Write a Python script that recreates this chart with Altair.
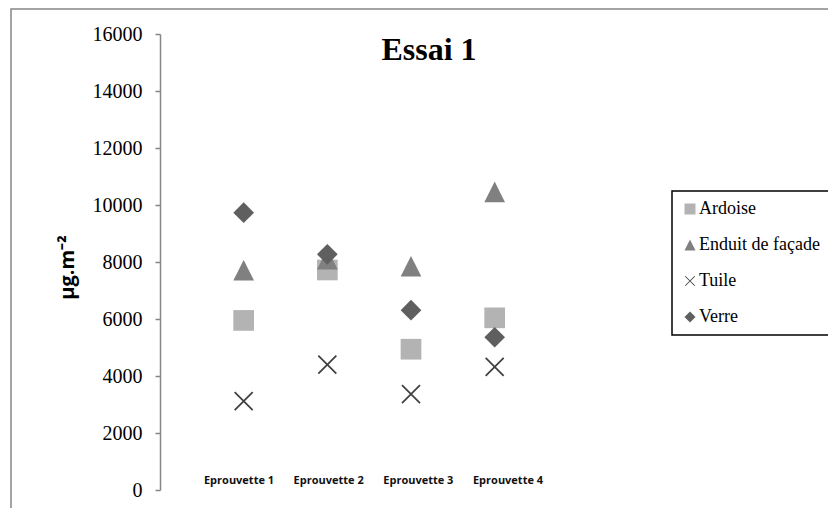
import altair as alt
import pandas as pd

# ---- data ----
categories = ["Eprouvette 1", "Eprouvette 2", "Eprouvette 3", "Eprouvette 4"]
positions = [1, 2, 3, 4]
series = ["Ardoise", "Enduit de façade", "Tuile", "Verre"]
ardoise = [5950, 7720, 4940, 6040]
enduit = [7710, 8100, 7850, 10460]
tuile = [3120, 4400, 3360, 4320]
verre = [9730, 8270, 6310, 5360]
y_ticks = [0, 2000, 4000, 6000, 8000, 10000, 12000, 14000, 16000]
title_text = ["Essai 1"]
y_title = "µg.m⁻²"

rows = []
for name, vals in zip(series, [ardoise, enduit, tuile, verre]):
    for pos, cat, v in zip(positions, categories, vals):
        rows.append({"serie": name, "pos": pos, "cat": cat, "val": v})
df = pd.DataFrame(rows)
labels_df = pd.DataFrame({"cat": categories})
title_df = pd.DataFrame({"t": title_text})

colors = ["#b3b3b3", "#808080", "#404040", "#5f5f5f"]
x_path = ("M-0.81,-0.93L0.93,0.81L0.81,0.93L-0.93,-0.81Z"
          "M-0.81,0.93L-0.93,0.81L0.81,-0.93L0.93,-0.81Z")
shapes = ["square", "M0,-1L1,1L-1,1Z", x_path, "diamond"]

W, H = 502, 456

legend = alt.Legend(
    title=None, orient="none", legendX=512, legendY=157,
    strokeColor="black", padding=9, rowPadding=18,
    symbolSize=121, symbolStrokeWidth=0, symbolOpacity=1,
    labelFont="Liberation Serif", labelFontSize=18, labelColor="black",
    labelOffset=0,
)

points = alt.Chart(df).mark_point(filled=True, size=428, opacity=1, strokeWidth=0).encode(
    x=alt.X("pos:Q", scale=alt.Scale(domain=[0, 6], nice=False, zero=False), axis=None),
    y=alt.Y("val:Q", scale=alt.Scale(domain=[0, 16000], nice=False),
            axis=alt.Axis(values=y_ticks, format="d", title=y_title, grid=False,
                          domainColor="#868686", domainWidth=1.5,
                          tickColor="#868686", tickWidth=1.5, tickSize=5,
                          labelFont="Liberation Serif", labelFontSize=20,
                          labelColor="black", labelPadding=13,
                          titleFont="Open Sans", titleFontWeight="bold",
                          titleFontSize=20, titleColor="black",
                          titleX=-87, titleY=233, titleAngle=270,
                          titleAlign="center", titleBaseline="alphabetic")),
    color=alt.Color("serie:N", scale=alt.Scale(domain=series, range=colors), legend=legend),
    shape=alt.Shape("serie:N", scale=alt.Scale(domain=series, range=shapes), legend=legend),
    order=alt.Order("serie:N"),
)

cat_text = alt.Chart(labels_df).mark_text(
    font="Open Sans", fontSize=11, fontWeight="bold", color="#111111", baseline="middle"
).encode(
    x=alt.X("cat:N", scale=alt.Scale(type="point", domain=categories, range=[79, 348], padding=0),
            axis=None),
    y=alt.value(447),
    text="cat:N",
)

title = alt.Chart(title_df).mark_text(
    font="Liberation Serif", fontSize=32, fontWeight="bold", color="black",
    baseline="alphabetic", align="center"
).encode(x=alt.value(269), y=alt.value(26), text="t:N")

frame = alt.Chart(title_df).mark_rect(fillOpacity=0, stroke="#868686", strokeWidth=1.5).encode(
    x=alt.value(-149), x2=alt.value(720), y=alt.value(-25), y2=alt.value(540)
)

chart = alt.layer(frame, points, cat_text, title).resolve_scale(x="independent").properties(
    width=W, height=H,
    autosize=alt.AutoSizeParams(type="none"),
    padding={"left": 152, "top": 26, "right": 166, "bottom": 18},
    background="white",
).configure_view(strokeWidth=0).configure_legend(strokeWidth=1.5)

chart.save("out.html", embed_options={"renderer": "svg", "actions": False})
